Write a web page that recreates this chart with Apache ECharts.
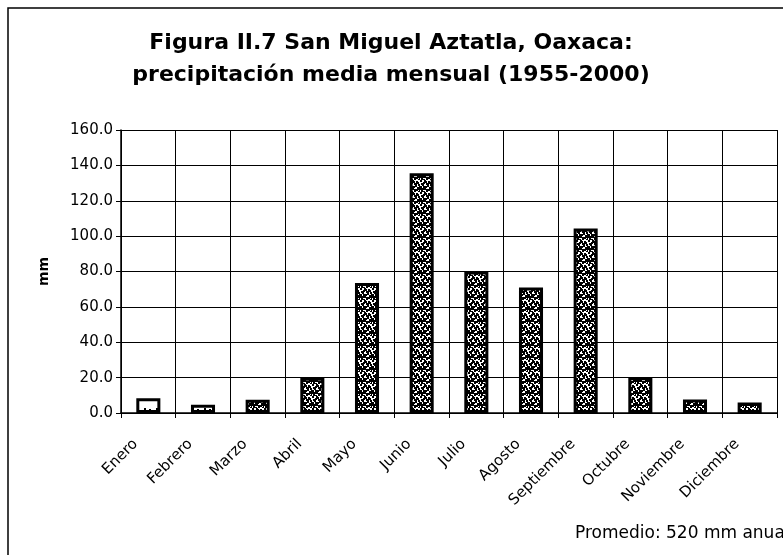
<!DOCTYPE html>
<html>
<head>
<meta charset="utf-8">
<script src="https://cdn.jsdelivr.net/npm/echarts@6/dist/echarts.min.js"></script>
<style>
html,body{margin:0;padding:0;background:#fff;}
#chart{width:783px;height:555px;}
</style>
</head>
<body>
<div id="chart"></div>
<script>
var months = ['Enero','Febrero','Marzo','Abril','Mayo','Junio','Julio','Agosto','Septiembre','Octubre','Noviembre','Diciembre'];
var precip = [8.3, 4.7, 7.5, 20.0, 73.5, 135.5, 80.0, 71.0, 104.3, 20.2, 7.6, 6.0];
var yTicks = [0, 20, 40, 60, 80, 100, 120, 140, 160];
var titleLines = ['Figura II.7 San Miguel Aztatla, Oaxaca:', 'precipitación media mensual (1955-2000)'];
var yAxisName = 'mm';
var note = 'Promedio: 520 mm anual';

// deterministic stipple texture
function makePattern(density) {
  var c = document.createElement('canvas');
  c.width = 12; c.height = 12;
  var ctx = c.getContext('2d');
  ctx.fillStyle = '#fff';
  ctx.fillRect(0, 0, 12, 12);
  ctx.fillStyle = '#000';
  var pts = [[0,0],[5,1],[9,2],[2,4],[7,5],[11,6],[4,8],[8,9],[1,10],[6,11],[10,11],[3,2],[9,7],[0,6],[5,6],[7,3],
             [2,8],[10,4],[4,0],[8,1],[1,3],[6,9],[11,10],[3,11],[0,8],[6,3],[10,8],[3,6]];
  for (var i = 0; i < Math.round(pts.length * density); i++) {
    ctx.fillRect(pts[i][0], pts[i][1], 2, 2);
  }
  return c;
}
var stipple = makePattern(1);
var light = makePattern(0.08);
var fillKind = ['light','light','dense','dense','dense','dense','dense','dense','dense','dense','dense','dense'];

var chart = echarts.init(document.getElementById('chart'), null, {renderer: 'canvas'});
chart.setOption({
  backgroundColor: '#fff',
  animation: false,
  title: {
    text: titleLines.join('\n'),
    left: 391, textAlign: 'center', top: 27, padding: 0,
    textStyle: {fontFamily: 'DejaVu Sans', fontWeight: 'bold', fontSize: 22, lineHeight: 32, color: '#000'}
  },
  graphic: [
    {type: 'rect', shape: {x: 8, y: 8, width: 820, height: 620}, style: {fill: 'none', stroke: '#000', lineWidth: 1.5}, silent: true},
    {type: 'text', left: 575, top: 525, style: {text: note, fontFamily: 'DejaVu Sans', fontSize: 17, fill: '#000'}}
  ],
  grid: {left: 121, right: 6, top: 130, bottom: 142},
  xAxis: {
    type: 'category',
    data: months,
    boundaryGap: true,
    axisLine: {lineStyle: {color: '#000', width: 1.5}},
    axisTick: {show: true, length: 5, lineStyle: {color: '#000'}},
    splitLine: {show: true, lineStyle: {color: '#000', width: 1}},
    axisLabel: {rotate: 45, margin: 16, padding: [0, 18, 0, 0], interval: 0, color: '#000', fontFamily: 'DejaVu Sans', fontSize: 15}
  },
  yAxis: {
    type: 'value',
    min: yTicks[0], max: yTicks[yTicks.length - 1], interval: 20,
    name: yAxisName, nameLocation: 'middle', nameRotate: 90, nameGap: 70,
    nameTextStyle: {fontFamily: 'DejaVu Sans', fontWeight: 'bold', fontSize: 14, color: '#000'},
    axisLine: {show: true, lineStyle: {color: '#000', width: 1.5}},
    axisTick: {show: true, length: 5, lineStyle: {color: '#000'}},
    splitLine: {show: true, lineStyle: {color: '#000', width: 1}},
    axisLabel: {margin: 8, color: '#000', fontFamily: 'DejaVu Sans', fontSize: 15, formatter: function (v) { return v.toFixed(1); }}
  },
  series: [{
    type: 'bar',
    data: precip,
    barWidth: '44%',
    itemStyle: {
      borderColor: '#000', borderWidth: 3,
      color: function (p) { return {image: fillKind[p.dataIndex] === 'light' ? light : stipple, repeat: 'repeat'}; }
    }
  }]
});
</script>
</body>
</html>
